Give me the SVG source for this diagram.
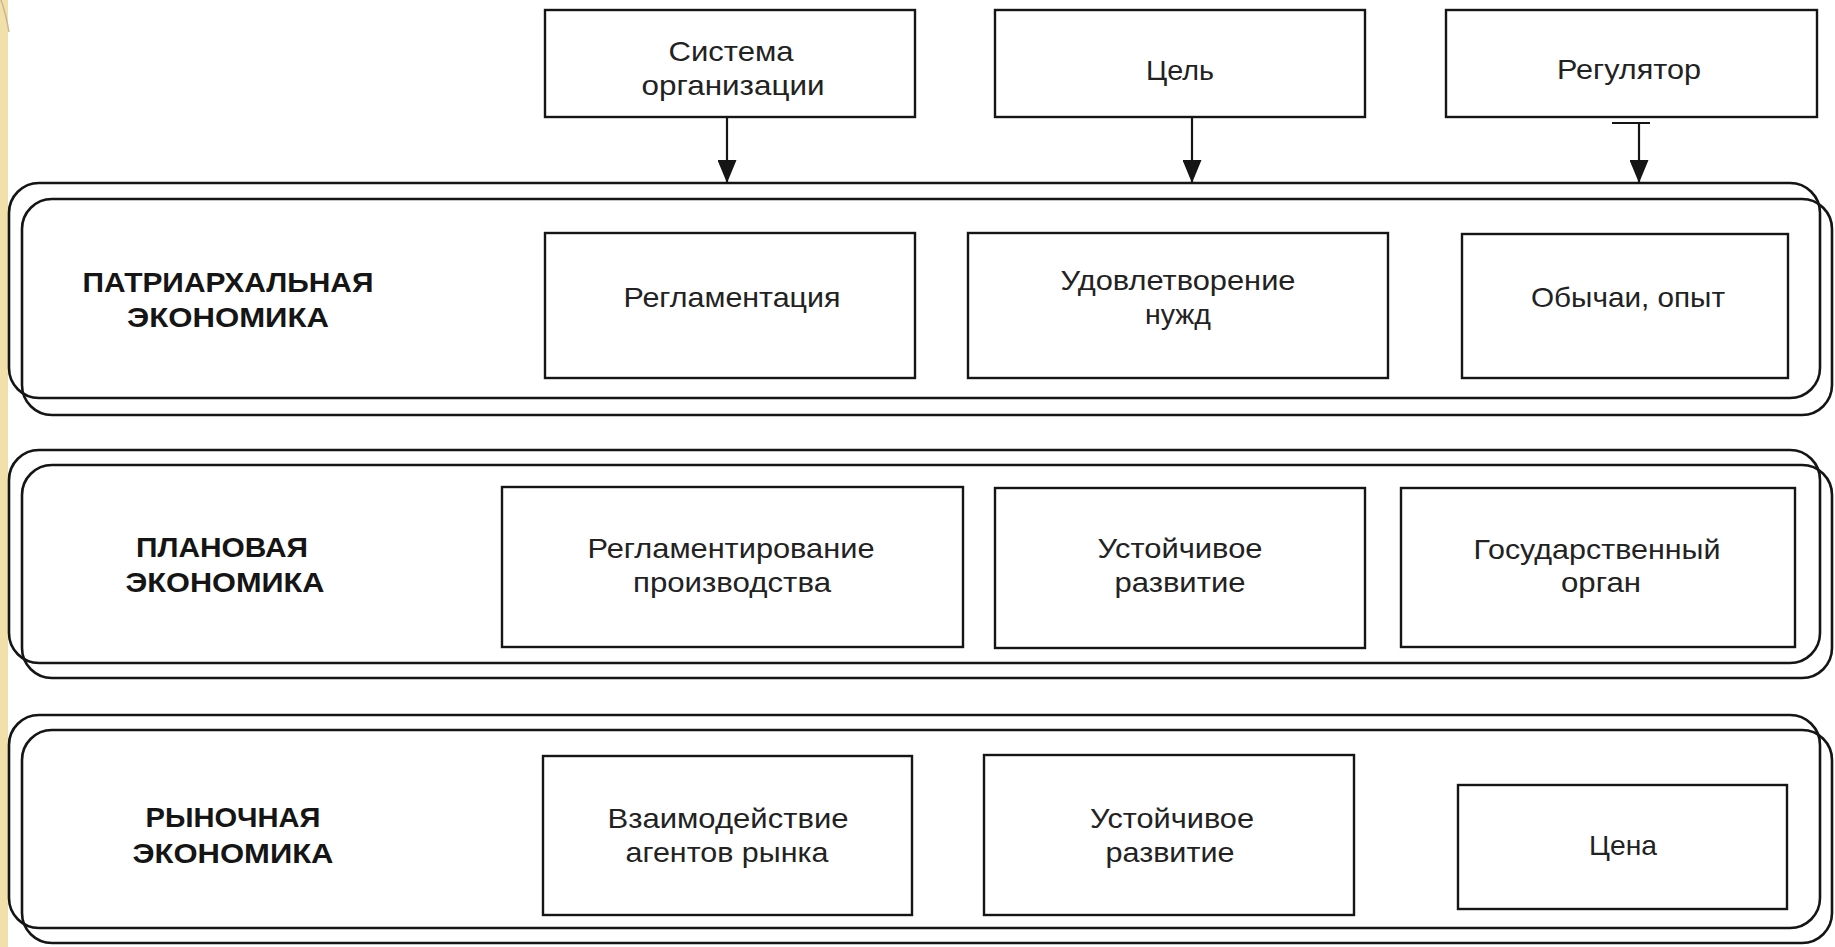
<svg xmlns="http://www.w3.org/2000/svg" width="1835" height="947" viewBox="0 0 1835 947">
<style>
.bg{fill:#ffffff}
.band{fill:none;stroke:#151515;stroke-width:2.6}
.box{fill:#ffffff;stroke:#151515;stroke-width:2.4}
.t{font-family:"Liberation Sans",Arial,sans-serif;font-size:28px;fill:#222;text-anchor:middle}
.lbl{font-family:"Liberation Sans",Arial,sans-serif;font-size:28px;font-weight:bold;fill:#151515;text-anchor:middle}
.con{fill:none;stroke:#151515;stroke-width:2.2}
</style>
<defs>
<marker id="ah" markerUnits="userSpaceOnUse" viewBox="0 0 23 19" refX="23" refY="9.5" markerWidth="23" markerHeight="19" orient="auto">
<path d="M0,0 L23,9.5 L0,19 z" fill="#151515"/>
</marker>
</defs>
<rect class="bg" x="0" y="0" width="1835" height="947"/>
<rect x="0" y="0" width="8" height="947" fill="#f1e0aa"/>
<path d="M1,0 Q6,14 9,32" fill="none" stroke="#c9b78f" stroke-width="1.5"/>

<g id="band-patriarchal">
<rect class="band" x="9" y="183" width="1811" height="215" rx="30"/>
<rect class="band" x="22" y="199" width="1810" height="216" rx="30"/>
<text class="lbl" x="228" y="292" textLength="291" lengthAdjust="spacingAndGlyphs">ПАТРИАРХАЛЬНАЯ</text>
<text class="lbl" x="228" y="327" textLength="202" lengthAdjust="spacingAndGlyphs">ЭКОНОМИКА</text>
</g>
<g id="band-planned">
<rect class="band" x="9" y="450" width="1811" height="213" rx="30"/>
<rect class="band" x="22" y="465" width="1810" height="213" rx="30"/>
<text class="lbl" x="222" y="557" textLength="172" lengthAdjust="spacingAndGlyphs">ПЛАНОВАЯ</text>
<text class="lbl" x="225" y="592" textLength="199" lengthAdjust="spacingAndGlyphs">ЭКОНОМИКА</text>
</g>
<g id="band-market">
<rect class="band" x="9" y="715" width="1811" height="213" rx="30"/>
<rect class="band" x="22" y="730" width="1810" height="213" rx="30"/>
<text class="lbl" x="233" y="827" textLength="175" lengthAdjust="spacingAndGlyphs">РЫНОЧНАЯ</text>
<text class="lbl" x="233" y="863" textLength="201" lengthAdjust="spacingAndGlyphs">ЭКОНОМИКА</text>
</g>

<g id="head-system">
<rect class="box" x="545" y="10" width="370" height="107"/>
<text class="t" x="731" y="61" textLength="125" lengthAdjust="spacingAndGlyphs">Система</text>
<text class="t" x="733" y="95" textLength="183" lengthAdjust="spacingAndGlyphs">организации</text>
</g>
<g id="head-goal">
<rect class="box" x="995" y="10" width="370" height="107"/>
<text class="t" x="1180" y="80" textLength="68" lengthAdjust="spacingAndGlyphs">Цель</text>
</g>
<g id="head-regulator">
<rect class="box" x="1446" y="10" width="371" height="107"/>
<text class="t" x="1629" y="79" textLength="144" lengthAdjust="spacingAndGlyphs">Регулятор</text>
</g>

<g id="p-system">
<rect class="box" x="545" y="233" width="370" height="145"/>
<text class="t" x="732" y="307" textLength="217" lengthAdjust="spacingAndGlyphs">Регламентация</text>
</g>
<g id="p-goal">
<rect class="box" x="968" y="233" width="420" height="145"/>
<text class="t" x="1178" y="290" textLength="235" lengthAdjust="spacingAndGlyphs">Удовлетворение</text>
<text class="t" x="1178" y="324" textLength="66" lengthAdjust="spacingAndGlyphs">нужд</text>
</g>
<g id="p-regulator">
<rect class="box" x="1462" y="234" width="326" height="144"/>
<text class="t" x="1628" y="307" textLength="194" lengthAdjust="spacingAndGlyphs">Обычаи, опыт</text>
</g>

<g id="pl-system">
<rect class="box" x="502" y="487" width="461" height="160"/>
<text class="t" x="731" y="558" textLength="287" lengthAdjust="spacingAndGlyphs">Регламентирование</text>
<text class="t" x="732" y="592" textLength="198" lengthAdjust="spacingAndGlyphs">производства</text>
</g>
<g id="pl-goal">
<rect class="box" x="995" y="488" width="370" height="160"/>
<text class="t" x="1180" y="558" textLength="165" lengthAdjust="spacingAndGlyphs">Устойчивое</text>
<text class="t" x="1180" y="592" textLength="131" lengthAdjust="spacingAndGlyphs">развитие</text>
</g>
<g id="pl-regulator">
<rect class="box" x="1401" y="488" width="394" height="159"/>
<text class="t" x="1597" y="559" textLength="247" lengthAdjust="spacingAndGlyphs">Государственный</text>
<text class="t" x="1601" y="592" textLength="80" lengthAdjust="spacingAndGlyphs">орган</text>
</g>

<g id="m-system">
<rect class="box" x="543" y="756" width="369" height="159"/>
<text class="t" x="728" y="828" textLength="241" lengthAdjust="spacingAndGlyphs">Взаимодействие</text>
<text class="t" x="727" y="862" textLength="203" lengthAdjust="spacingAndGlyphs">агентов рынка</text>
</g>
<g id="m-goal">
<rect class="box" x="984" y="755" width="370" height="160"/>
<text class="t" x="1172" y="828" textLength="164" lengthAdjust="spacingAndGlyphs">Устойчивое</text>
<text class="t" x="1170" y="862" textLength="129" lengthAdjust="spacingAndGlyphs">развитие</text>
</g>
<g id="m-regulator">
<rect class="box" x="1458" y="785" width="329" height="124"/>
<text class="t" x="1623" y="855" textLength="68" lengthAdjust="spacingAndGlyphs">Цена</text>
</g>

<g id="connectors">
<line class="con" x1="727" y1="117" x2="727" y2="183" marker-end="url(#ah)"/>
<line class="con" x1="1192" y1="117" x2="1192" y2="183" marker-end="url(#ah)"/>
<line class="con" x1="1612" y1="123" x2="1650" y2="123"/>
<line class="con" x1="1639" y1="123" x2="1639" y2="183" marker-end="url(#ah)"/>
</g>
</svg>
